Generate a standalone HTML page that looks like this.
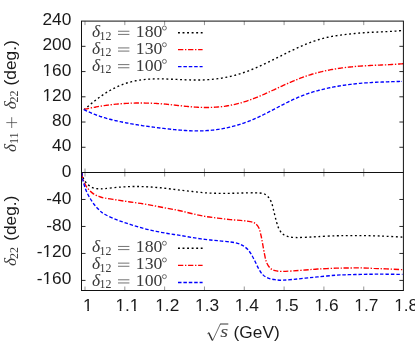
<!DOCTYPE html>
<html><head><meta charset="utf-8"><title>plot</title>
<style>html,body{margin:0;padding:0;background:#fff;}svg{display:block;will-change:transform;opacity:0.999;}</style>
</head><body>
<svg width="415" height="345" viewBox="0 0 415 345">
<rect x="0" y="0" width="415" height="345" fill="#fff"/>
<g fill="none" stroke-width="1.35">
<path d="M83.90,109.86C84.23,109.57 85.23,108.70 85.90,108.13C86.57,107.56 87.23,106.99 87.90,106.43C88.57,105.87 89.23,105.31 89.90,104.76C90.57,104.21 91.23,103.66 91.90,103.12C92.57,102.58 93.23,102.05 93.90,101.52C94.57,101.00 95.23,100.48 95.90,99.96C96.57,99.45 97.23,98.95 97.90,98.45C98.57,97.95 99.23,97.47 99.90,96.99C100.57,96.51 101.23,96.04 101.90,95.58C102.57,95.11 103.23,94.66 103.90,94.22C104.57,93.78 105.23,93.35 105.90,92.93C106.57,92.50 107.23,92.09 107.90,91.69C108.57,91.29 109.23,90.90 109.90,90.52C110.57,90.14 111.23,89.77 111.90,89.41C112.57,89.05 113.23,88.70 113.90,88.36C114.57,88.02 115.23,87.69 115.90,87.37C116.57,87.05 117.23,86.74 117.90,86.44C118.57,86.14 119.23,85.85 119.90,85.57C120.57,85.29 121.23,85.02 121.90,84.77C122.57,84.51 123.23,84.26 123.90,84.02C124.57,83.78 125.23,83.56 125.90,83.34C126.57,83.12 127.23,82.92 127.90,82.72C128.57,82.52 129.23,82.33 129.90,82.15C130.57,81.97 131.23,81.80 131.90,81.64C132.57,81.48 133.23,81.33 133.90,81.19C134.57,81.04 135.23,80.91 135.90,80.78C136.57,80.65 137.23,80.53 137.90,80.42C138.57,80.30 139.23,80.20 139.90,80.10C140.57,80.00 141.23,79.91 141.90,79.83C142.57,79.74 143.23,79.67 143.90,79.60C144.57,79.52 145.23,79.46 145.90,79.40C146.57,79.34 147.23,79.29 147.90,79.24C148.57,79.19 149.23,79.15 149.90,79.11C150.57,79.08 151.23,79.05 151.90,79.02C152.57,78.99 153.23,78.97 153.90,78.95C154.57,78.93 155.23,78.92 155.90,78.91C156.57,78.90 157.23,78.89 157.90,78.89C158.57,78.89 159.23,78.89 159.90,78.89C160.57,78.90 161.23,78.90 161.90,78.91C162.57,78.92 163.23,78.94 163.90,78.95C164.57,78.96 165.23,78.98 165.90,79.00C166.57,79.02 167.23,79.04 167.90,79.06C168.57,79.09 169.23,79.11 169.90,79.14C170.57,79.16 171.23,79.19 171.90,79.22C172.57,79.24 173.23,79.27 173.90,79.30C174.57,79.33 175.23,79.36 175.90,79.39C176.57,79.42 177.23,79.45 177.90,79.48C178.57,79.51 179.23,79.54 179.90,79.57C180.57,79.60 181.23,79.63 181.90,79.66C182.57,79.69 183.23,79.72 183.90,79.74C184.57,79.77 185.23,79.80 185.90,79.82C186.57,79.85 187.23,79.87 187.90,79.89C188.57,79.91 189.23,79.93 189.90,79.95C190.57,79.97 191.23,79.99 191.90,80.00C192.57,80.01 193.23,80.03 193.90,80.03C194.57,80.04 195.23,80.05 195.90,80.05C196.57,80.05 197.23,80.05 197.90,80.05C198.57,80.05 199.23,80.04 199.90,80.03C200.57,80.02 201.23,80.00 201.90,79.98C202.57,79.97 203.23,79.94 203.90,79.92C204.57,79.89 205.23,79.86 205.90,79.82C206.57,79.79 207.23,79.75 207.90,79.70C208.57,79.66 209.23,79.61 209.90,79.56C210.57,79.50 211.23,79.45 211.90,79.38C212.57,79.32 213.23,79.25 213.90,79.18C214.57,79.11 215.23,79.03 215.90,78.95C216.57,78.87 217.23,78.78 217.90,78.69C218.57,78.60 219.23,78.50 219.90,78.40C220.57,78.30 221.23,78.20 221.90,78.08C222.57,77.97 223.23,77.86 223.90,77.74C224.57,77.62 225.23,77.49 225.90,77.36C226.57,77.23 227.23,77.09 227.90,76.95C228.57,76.81 229.23,76.66 229.90,76.51C230.57,76.36 231.23,76.20 231.90,76.04C232.57,75.87 233.23,75.71 233.90,75.53C234.57,75.36 235.23,75.18 235.90,75.00C236.57,74.81 237.23,74.62 237.90,74.43C238.57,74.23 239.23,74.03 239.90,73.82C240.57,73.62 241.23,73.40 241.90,73.18C242.57,72.97 243.23,72.74 243.90,72.51C244.57,72.28 245.23,72.05 245.90,71.81C246.57,71.57 247.23,71.32 247.90,71.07C248.57,70.82 249.23,70.56 249.90,70.30C250.57,70.04 251.23,69.77 251.90,69.50C252.57,69.23 253.23,68.96 253.90,68.68C254.57,68.40 255.23,68.11 255.90,67.83C256.57,67.54 257.23,67.25 257.90,66.96C258.57,66.66 259.23,66.36 259.90,66.06C260.57,65.76 261.23,65.46 261.90,65.15C262.57,64.84 263.23,64.53 263.90,64.22C264.57,63.91 265.23,63.59 265.90,63.27C266.57,62.96 267.23,62.64 267.90,62.32C268.57,62.00 269.23,61.67 269.90,61.35C270.57,61.02 271.23,60.70 271.90,60.37C272.57,60.04 273.23,59.71 273.90,59.38C274.57,59.06 275.23,58.72 275.90,58.39C276.57,58.06 277.23,57.73 277.90,57.40C278.57,57.07 279.23,56.74 279.90,56.41C280.57,56.07 281.23,55.74 281.90,55.41C282.57,55.08 283.23,54.75 283.90,54.42C284.57,54.09 285.23,53.76 285.90,53.43C286.57,53.10 287.23,52.78 287.90,52.45C288.57,52.13 289.23,51.80 289.90,51.48C290.57,51.16 291.23,50.84 291.90,50.52C292.57,50.20 293.23,49.88 293.90,49.57C294.57,49.25 295.23,48.94 295.90,48.63C296.57,48.32 297.23,48.02 297.90,47.71C298.57,47.41 299.23,47.11 299.90,46.81C300.57,46.52 301.23,46.22 301.90,45.93C302.57,45.64 303.23,45.36 303.90,45.08C304.57,44.79 305.23,44.52 305.90,44.24C306.57,43.97 307.23,43.70 307.90,43.43C308.57,43.17 309.23,42.91 309.90,42.66C310.57,42.40 311.23,42.15 311.90,41.91C312.57,41.66 313.23,41.42 313.90,41.19C314.57,40.96 315.23,40.73 315.90,40.51C316.57,40.28 317.23,40.07 317.90,39.86C318.57,39.65 319.23,39.45 319.90,39.25C320.57,39.05 321.23,38.86 321.90,38.68C322.57,38.50 323.23,38.32 323.90,38.15C324.57,37.98 325.23,37.82 325.90,37.67C326.57,37.51 327.23,37.37 327.90,37.22C328.57,37.08 329.23,36.95 329.90,36.82C330.57,36.69 331.23,36.56 331.90,36.44C332.57,36.32 333.23,36.21 333.90,36.10C334.57,35.99 335.23,35.88 335.90,35.78C336.57,35.68 337.23,35.58 337.90,35.48C338.57,35.39 339.23,35.30 339.90,35.21C340.57,35.12 341.23,35.03 341.90,34.94C342.57,34.86 343.23,34.78 343.90,34.69C344.57,34.61 345.23,34.53 345.90,34.45C346.57,34.37 347.23,34.30 347.90,34.22C348.57,34.14 349.23,34.07 349.90,34.00C350.57,33.93 351.23,33.85 351.90,33.78C352.57,33.72 353.23,33.65 353.90,33.58C354.57,33.52 355.23,33.45 355.90,33.39C356.57,33.33 357.23,33.27 357.90,33.21C358.57,33.15 359.23,33.10 359.90,33.04C360.57,32.99 361.23,32.94 361.90,32.89C362.57,32.84 363.23,32.79 363.90,32.74C364.57,32.70 365.23,32.65 365.90,32.61C366.57,32.57 367.23,32.53 367.90,32.50C368.57,32.46 369.23,32.42 369.90,32.39C370.57,32.35 371.23,32.32 371.90,32.29C372.57,32.25 373.23,32.22 373.90,32.19C374.57,32.16 375.23,32.13 375.90,32.10C376.57,32.07 377.23,32.05 377.90,32.02C378.57,31.99 379.23,31.96 379.90,31.93C380.57,31.90 381.23,31.87 381.90,31.84C382.57,31.81 383.23,31.78 383.90,31.75C384.57,31.72 385.23,31.69 385.90,31.66C386.57,31.63 387.23,31.59 387.90,31.56C388.57,31.52 389.23,31.49 389.90,31.45C390.57,31.41 391.23,31.37 391.90,31.33C392.57,31.29 393.23,31.24 393.90,31.20C394.57,31.15 395.23,31.10 395.90,31.05C396.57,31.00 397.23,30.95 397.90,30.89C398.57,30.83 399.23,30.77 399.90,30.71C400.57,30.65 401.55,30.55 401.90,30.51C402.25,30.48 401.98,30.50 402.00,30.50" stroke="#000" stroke-dasharray="1.9 2.65"/>
<path d="M83.90,109.46C84.23,109.39 85.23,109.16 85.90,109.01C86.57,108.86 87.23,108.71 87.90,108.56C88.57,108.42 89.23,108.28 89.90,108.14C90.57,108.00 91.23,107.87 91.90,107.73C92.57,107.60 93.23,107.47 93.90,107.35C94.57,107.22 95.23,107.09 95.90,106.97C96.57,106.85 97.23,106.73 97.90,106.62C98.57,106.50 99.23,106.39 99.90,106.28C100.57,106.17 101.23,106.06 101.90,105.96C102.57,105.86 103.23,105.76 103.90,105.66C104.57,105.56 105.23,105.46 105.90,105.37C106.57,105.28 107.23,105.19 107.90,105.10C108.57,105.01 109.23,104.93 109.90,104.85C110.57,104.77 111.23,104.69 111.90,104.61C112.57,104.53 113.23,104.46 113.90,104.39C114.57,104.32 115.23,104.25 115.90,104.19C116.57,104.12 117.23,104.06 117.90,104.00C118.57,103.94 119.23,103.88 119.90,103.83C120.57,103.77 121.23,103.72 121.90,103.67C122.57,103.62 123.23,103.58 123.90,103.53C124.57,103.49 125.23,103.45 125.90,103.41C126.57,103.37 127.23,103.34 127.90,103.31C128.57,103.27 129.23,103.24 129.90,103.21C130.57,103.19 131.23,103.16 131.90,103.14C132.57,103.12 133.23,103.10 133.90,103.08C134.57,103.06 135.23,103.05 135.90,103.04C136.57,103.02 137.23,103.01 137.90,103.01C138.57,103.00 139.23,103.00 139.90,102.99C140.57,102.99 141.23,102.99 141.90,103.00C142.57,103.00 143.23,103.01 143.90,103.01C144.57,103.02 145.23,103.03 145.90,103.05C146.57,103.06 147.23,103.08 147.90,103.10C148.57,103.11 149.23,103.14 149.90,103.16C150.57,103.18 151.23,103.21 151.90,103.24C152.57,103.27 153.23,103.30 153.90,103.33C154.57,103.36 155.23,103.40 155.90,103.44C156.57,103.48 157.23,103.52 157.90,103.56C158.57,103.60 159.23,103.65 159.90,103.70C160.57,103.75 161.23,103.80 161.90,103.85C162.57,103.90 163.23,103.96 163.90,104.02C164.57,104.07 165.23,104.13 165.90,104.20C166.57,104.26 167.23,104.32 167.90,104.39C168.57,104.45 169.23,104.52 169.90,104.59C170.57,104.66 171.23,104.73 171.90,104.80C172.57,104.87 173.23,104.95 173.90,105.02C174.57,105.09 175.23,105.16 175.90,105.24C176.57,105.31 177.23,105.39 177.90,105.46C178.57,105.53 179.23,105.61 179.90,105.68C180.57,105.75 181.23,105.83 181.90,105.90C182.57,105.97 183.23,106.04 183.90,106.11C184.57,106.18 185.23,106.25 185.90,106.32C186.57,106.38 187.23,106.45 187.90,106.51C188.57,106.58 189.23,106.64 189.90,106.70C190.57,106.76 191.23,106.82 191.90,106.87C192.57,106.93 193.23,106.98 193.90,107.03C194.57,107.08 195.23,107.12 195.90,107.17C196.57,107.21 197.23,107.25 197.90,107.28C198.57,107.32 199.23,107.35 199.90,107.38C200.57,107.41 201.23,107.43 201.90,107.45C202.57,107.47 203.23,107.49 203.90,107.50C204.57,107.51 205.23,107.51 205.90,107.52C206.57,107.52 207.23,107.51 207.90,107.50C208.57,107.50 209.23,107.48 209.90,107.46C210.57,107.44 211.23,107.42 211.90,107.39C212.57,107.36 213.23,107.33 213.90,107.29C214.57,107.25 215.23,107.21 215.90,107.16C216.57,107.11 217.23,107.06 217.90,107.00C218.57,106.94 219.23,106.88 219.90,106.81C220.57,106.74 221.23,106.66 221.90,106.58C222.57,106.50 223.23,106.42 223.90,106.33C224.57,106.24 225.23,106.14 225.90,106.04C226.57,105.94 227.23,105.83 227.90,105.72C228.57,105.60 229.23,105.49 229.90,105.36C230.57,105.24 231.23,105.11 231.90,104.98C232.57,104.84 233.23,104.70 233.90,104.55C234.57,104.41 235.23,104.26 235.90,104.10C236.57,103.94 237.23,103.78 237.90,103.61C238.57,103.44 239.23,103.27 239.90,103.08C240.57,102.90 241.23,102.72 241.90,102.52C242.57,102.33 243.23,102.13 243.90,101.93C244.57,101.72 245.23,101.51 245.90,101.30C246.57,101.08 247.23,100.86 247.90,100.63C248.57,100.41 249.23,100.17 249.90,99.94C250.57,99.70 251.23,99.46 251.90,99.21C252.57,98.96 253.23,98.71 253.90,98.45C254.57,98.20 255.23,97.94 255.90,97.67C256.57,97.41 257.23,97.14 257.90,96.86C258.57,96.59 259.23,96.32 259.90,96.04C260.57,95.76 261.23,95.47 261.90,95.19C262.57,94.90 263.23,94.61 263.90,94.32C264.57,94.03 265.23,93.73 265.90,93.43C266.57,93.14 267.23,92.84 267.90,92.54C268.57,92.23 269.23,91.93 269.90,91.63C270.57,91.32 271.23,91.01 271.90,90.71C272.57,90.40 273.23,90.09 273.90,89.78C274.57,89.47 275.23,89.16 275.90,88.85C276.57,88.54 277.23,88.23 277.90,87.92C278.57,87.62 279.23,87.31 279.90,87.00C280.57,86.69 281.23,86.38 281.90,86.08C282.57,85.77 283.23,85.46 283.90,85.16C284.57,84.86 285.23,84.55 285.90,84.26C286.57,83.96 287.23,83.66 287.90,83.36C288.57,83.07 289.23,82.77 289.90,82.48C290.57,82.19 291.23,81.90 291.90,81.62C292.57,81.33 293.23,81.05 293.90,80.77C294.57,80.49 295.23,80.22 295.90,79.95C296.57,79.68 297.23,79.41 297.90,79.14C298.57,78.88 299.23,78.62 299.90,78.36C300.57,78.11 301.23,77.86 301.90,77.61C302.57,77.36 303.23,77.12 303.90,76.88C304.57,76.65 305.23,76.41 305.90,76.19C306.57,75.96 307.23,75.74 307.90,75.52C308.57,75.30 309.23,75.09 309.90,74.88C310.57,74.67 311.23,74.46 311.90,74.27C312.57,74.07 313.23,73.87 313.90,73.68C314.57,73.49 315.23,73.30 315.90,73.12C316.57,72.94 317.23,72.76 317.90,72.59C318.57,72.42 319.23,72.25 319.90,72.08C320.57,71.92 321.23,71.75 321.90,71.60C322.57,71.44 323.23,71.29 323.90,71.14C324.57,70.99 325.23,70.84 325.90,70.70C326.57,70.56 327.23,70.42 327.90,70.29C328.57,70.15 329.23,70.02 329.90,69.89C330.57,69.77 331.23,69.64 331.90,69.52C332.57,69.40 333.23,69.28 333.90,69.17C334.57,69.06 335.23,68.95 335.90,68.84C336.57,68.73 337.23,68.63 337.90,68.52C338.57,68.42 339.23,68.33 339.90,68.23C340.57,68.13 341.23,68.04 341.90,67.95C342.57,67.86 343.23,67.78 343.90,67.69C344.57,67.61 345.23,67.53 345.90,67.45C346.57,67.37 347.23,67.29 347.90,67.22C348.57,67.15 349.23,67.07 349.90,67.01C350.57,66.94 351.23,66.87 351.90,66.81C352.57,66.74 353.23,66.68 353.90,66.62C354.57,66.56 355.23,66.50 355.90,66.45C356.57,66.39 357.23,66.34 357.90,66.29C358.57,66.23 359.23,66.18 359.90,66.14C360.57,66.09 361.23,66.04 361.90,66.00C362.57,65.95 363.23,65.91 363.90,65.87C364.57,65.83 365.23,65.79 365.90,65.75C366.57,65.71 367.23,65.67 367.90,65.64C368.57,65.60 369.23,65.57 369.90,65.53C370.57,65.50 371.23,65.47 371.90,65.43C372.57,65.40 373.23,65.37 373.90,65.34C374.57,65.31 375.23,65.28 375.90,65.25C376.57,65.22 377.23,65.19 377.90,65.16C378.57,65.13 379.23,65.10 379.90,65.07C380.57,65.04 381.23,65.01 381.90,64.98C382.57,64.95 383.23,64.93 383.90,64.89C384.57,64.86 385.23,64.83 385.90,64.80C386.57,64.77 387.23,64.74 387.90,64.71C388.57,64.67 389.23,64.64 389.90,64.60C390.57,64.57 391.23,64.53 391.90,64.49C392.57,64.46 393.23,64.42 393.90,64.38C394.57,64.34 395.23,64.30 395.90,64.25C396.57,64.21 397.23,64.17 397.90,64.12C398.57,64.07 399.23,64.02 399.90,63.97C400.57,63.92 401.32,63.86 401.90,63.81C402.48,63.76 403.15,63.71 403.40,63.68" stroke="#f00" stroke-dasharray="5.3 1.7 1.35 1.7"/>
<path d="M83.90,109.57C84.23,109.73 85.23,110.24 85.90,110.56C86.57,110.89 87.23,111.20 87.90,111.51C88.57,111.81 89.23,112.11 89.90,112.41C90.57,112.70 91.23,112.98 91.90,113.26C92.57,113.54 93.23,113.81 93.90,114.07C94.57,114.34 95.23,114.59 95.90,114.84C96.57,115.09 97.23,115.34 97.90,115.57C98.57,115.81 99.23,116.04 99.90,116.27C100.57,116.50 101.23,116.71 101.90,116.93C102.57,117.14 103.23,117.35 103.90,117.56C104.57,117.76 105.23,117.96 105.90,118.15C106.57,118.35 107.23,118.53 107.90,118.72C108.57,118.90 109.23,119.08 109.90,119.26C110.57,119.43 111.23,119.60 111.90,119.77C112.57,119.94 113.23,120.10 113.90,120.26C114.57,120.42 115.23,120.58 115.90,120.73C116.57,120.88 117.23,121.03 117.90,121.18C118.57,121.32 119.23,121.47 119.90,121.61C120.57,121.75 121.23,121.89 121.90,122.02C122.57,122.16 123.23,122.29 123.90,122.42C124.57,122.55 125.23,122.68 125.90,122.81C126.57,122.94 127.23,123.06 127.90,123.19C128.57,123.31 129.23,123.43 129.90,123.55C130.57,123.67 131.23,123.79 131.90,123.90C132.57,124.02 133.23,124.14 133.90,124.25C134.57,124.36 135.23,124.47 135.90,124.58C136.57,124.69 137.23,124.80 137.90,124.91C138.57,125.01 139.23,125.12 139.90,125.22C140.57,125.32 141.23,125.43 141.90,125.53C142.57,125.63 143.23,125.73 143.90,125.82C144.57,125.92 145.23,126.02 145.90,126.11C146.57,126.21 147.23,126.30 147.90,126.40C148.57,126.49 149.23,126.58 149.90,126.67C150.57,126.76 151.23,126.85 151.90,126.94C152.57,127.03 153.23,127.12 153.90,127.20C154.57,127.29 155.23,127.37 155.90,127.46C156.57,127.54 157.23,127.63 157.90,127.71C158.57,127.79 159.23,127.88 159.90,127.96C160.57,128.04 161.23,128.12 161.90,128.20C162.57,128.28 163.23,128.36 163.90,128.44C164.57,128.52 165.23,128.60 165.90,128.67C166.57,128.75 167.23,128.83 167.90,128.90C168.57,128.98 169.23,129.05 169.90,129.13C170.57,129.20 171.23,129.27 171.90,129.34C172.57,129.41 173.23,129.48 173.90,129.55C174.57,129.62 175.23,129.68 175.90,129.75C176.57,129.81 177.23,129.87 177.90,129.93C178.57,129.99 179.23,130.05 179.90,130.11C180.57,130.16 181.23,130.22 181.90,130.27C182.57,130.32 183.23,130.37 183.90,130.42C184.57,130.46 185.23,130.50 185.90,130.54C186.57,130.58 187.23,130.62 187.90,130.66C188.57,130.69 189.23,130.72 189.90,130.75C190.57,130.78 191.23,130.80 191.90,130.82C192.57,130.84 193.23,130.86 193.90,130.88C194.57,130.89 195.23,130.90 195.90,130.91C196.57,130.91 197.23,130.91 197.90,130.91C198.57,130.91 199.23,130.90 199.90,130.89C200.57,130.88 201.23,130.87 201.90,130.85C202.57,130.83 203.23,130.80 203.90,130.77C204.57,130.75 205.23,130.71 205.90,130.67C206.57,130.63 207.23,130.59 207.90,130.54C208.57,130.49 209.23,130.44 209.90,130.38C210.57,130.33 211.23,130.26 211.90,130.19C212.57,130.13 213.23,130.05 213.90,129.98C214.57,129.90 215.23,129.82 215.90,129.73C216.57,129.64 217.23,129.55 217.90,129.45C218.57,129.35 219.23,129.25 219.90,129.14C220.57,129.03 221.23,128.92 221.90,128.80C222.57,128.68 223.23,128.56 223.90,128.43C224.57,128.31 225.23,128.17 225.90,128.03C226.57,127.90 227.23,127.75 227.90,127.60C228.57,127.45 229.23,127.30 229.90,127.14C230.57,126.98 231.23,126.82 231.90,126.65C232.57,126.48 233.23,126.30 233.90,126.12C234.57,125.94 235.23,125.76 235.90,125.57C236.57,125.37 237.23,125.18 237.90,124.98C238.57,124.77 239.23,124.57 239.90,124.36C240.57,124.14 241.23,123.93 241.90,123.70C242.57,123.48 243.23,123.25 243.90,123.02C244.57,122.78 245.23,122.54 245.90,122.30C246.57,122.05 247.23,121.80 247.90,121.55C248.57,121.29 249.23,121.03 249.90,120.77C250.57,120.50 251.23,120.23 251.90,119.96C252.57,119.68 253.23,119.40 253.90,119.11C254.57,118.83 255.23,118.54 255.90,118.25C256.57,117.95 257.23,117.65 257.90,117.35C258.57,117.05 259.23,116.74 259.90,116.43C260.57,116.11 261.23,115.80 261.90,115.48C262.57,115.16 263.23,114.83 263.90,114.50C264.57,114.18 265.23,113.84 265.90,113.51C266.57,113.17 267.23,112.83 267.90,112.49C268.57,112.15 269.23,111.80 269.90,111.46C270.57,111.11 271.23,110.76 271.90,110.41C272.57,110.06 273.23,109.71 273.90,109.36C274.57,109.01 275.23,108.66 275.90,108.30C276.57,107.95 277.23,107.60 277.90,107.25C278.57,106.90 279.23,106.54 279.90,106.19C280.57,105.84 281.23,105.50 281.90,105.15C282.57,104.80 283.23,104.46 283.90,104.12C284.57,103.77 285.23,103.43 285.90,103.10C286.57,102.76 287.23,102.43 287.90,102.10C288.57,101.77 289.23,101.44 289.90,101.12C290.57,100.80 291.23,100.48 291.90,100.16C292.57,99.85 293.23,99.54 293.90,99.23C294.57,98.92 295.23,98.62 295.90,98.33C296.57,98.03 297.23,97.74 297.90,97.45C298.57,97.16 299.23,96.88 299.90,96.61C300.57,96.33 301.23,96.06 301.90,95.80C302.57,95.53 303.23,95.27 303.90,95.02C304.57,94.77 305.23,94.53 305.90,94.29C306.57,94.05 307.23,93.81 307.90,93.59C308.57,93.36 309.23,93.14 309.90,92.92C310.57,92.71 311.23,92.50 311.90,92.29C312.57,92.08 313.23,91.88 313.90,91.69C314.57,91.49 315.23,91.30 315.90,91.11C316.57,90.93 317.23,90.74 317.90,90.57C318.57,90.39 319.23,90.21 319.90,90.04C320.57,89.87 321.23,89.71 321.90,89.54C322.57,89.38 323.23,89.22 323.90,89.06C324.57,88.91 325.23,88.75 325.90,88.60C326.57,88.45 327.23,88.31 327.90,88.16C328.57,88.02 329.23,87.88 329.90,87.74C330.57,87.60 331.23,87.47 331.90,87.33C332.57,87.20 333.23,87.07 333.90,86.94C334.57,86.82 335.23,86.69 335.90,86.57C336.57,86.45 337.23,86.33 337.90,86.22C338.57,86.10 339.23,85.99 339.90,85.88C340.57,85.77 341.23,85.66 341.90,85.56C342.57,85.46 343.23,85.35 343.90,85.25C344.57,85.15 345.23,85.06 345.90,84.96C346.57,84.87 347.23,84.78 347.90,84.69C348.57,84.60 349.23,84.52 349.90,84.43C350.57,84.35 351.23,84.27 351.90,84.19C352.57,84.11 353.23,84.03 353.90,83.96C354.57,83.88 355.23,83.81 355.90,83.74C356.57,83.67 357.23,83.61 357.90,83.54C358.57,83.48 359.23,83.41 359.90,83.35C360.57,83.29 361.23,83.23 361.90,83.18C362.57,83.12 363.23,83.07 363.90,83.02C364.57,82.97 365.23,82.92 365.90,82.87C366.57,82.82 367.23,82.78 367.90,82.73C368.57,82.69 369.23,82.65 369.90,82.61C370.57,82.57 371.23,82.53 371.90,82.49C372.57,82.45 373.23,82.42 373.90,82.38C374.57,82.35 375.23,82.32 375.90,82.29C376.57,82.25 377.23,82.22 377.90,82.19C378.57,82.17 379.23,82.14 379.90,82.11C380.57,82.08 381.23,82.06 381.90,82.03C382.57,82.01 383.23,81.98 383.90,81.96C384.57,81.93 385.23,81.91 385.90,81.89C386.57,81.86 387.23,81.84 387.90,81.82C388.57,81.80 389.23,81.78 389.90,81.76C390.57,81.73 391.23,81.71 391.90,81.69C392.57,81.67 393.23,81.65 393.90,81.63C394.57,81.61 395.23,81.59 395.90,81.56C396.57,81.54 397.23,81.52 397.90,81.50C398.57,81.48 399.23,81.45 399.90,81.43C400.57,81.41 401.55,81.37 401.90,81.36C402.25,81.35 401.98,81.35 402.00,81.35" stroke="#00f" stroke-dasharray="3.5 1.9"/>
<path d="M82.00,173.00C82.08,173.55 81.78,174.63 82.50,176.30C83.22,177.97 84.63,181.12 86.30,183.00C87.97,184.88 90.42,186.63 92.50,187.60C94.58,188.57 96.72,188.63 98.80,188.80C100.88,188.97 101.87,188.85 105.00,188.60C108.13,188.35 113.42,187.63 117.60,187.30C121.78,186.97 125.92,186.72 130.10,186.60C134.28,186.48 138.52,186.48 142.70,186.60C146.88,186.72 151.03,186.97 155.20,187.30C159.37,187.63 163.57,188.13 167.70,188.60C171.83,189.07 175.87,189.62 180.00,190.10C184.13,190.58 188.33,191.05 192.50,191.50C196.67,191.95 200.82,192.50 205.00,192.80C209.18,193.10 213.42,193.22 217.60,193.30C221.78,193.38 225.92,193.35 230.10,193.30C234.28,193.25 238.52,193.08 242.70,193.00C246.88,192.92 251.87,192.72 255.20,192.80C258.53,192.88 260.62,192.92 262.70,193.50C264.78,194.08 266.23,194.78 267.70,196.30C269.17,197.82 270.45,199.98 271.50,202.60C272.55,205.22 273.18,208.85 274.00,212.00C274.82,215.15 275.58,218.70 276.40,221.50C277.22,224.30 277.87,226.73 278.90,228.80C279.93,230.87 281.15,232.65 282.60,233.90C284.05,235.15 285.50,235.70 287.60,236.30C289.70,236.90 292.27,237.33 295.20,237.50C298.13,237.67 301.45,237.45 305.20,237.30C308.95,237.15 312.57,236.85 317.70,236.60C322.83,236.35 330.85,235.97 336.00,235.80C341.15,235.63 344.42,235.63 348.60,235.60C352.78,235.57 356.92,235.57 361.10,235.60C365.28,235.63 369.52,235.68 373.70,235.80C377.88,235.92 381.40,236.08 386.20,236.30C391.00,236.52 399.78,236.97 402.50,237.10" stroke="#000" stroke-dasharray="1.9 2.65"/>
<path d="M82.00,173.00C82.08,173.75 81.78,175.28 82.50,177.50C83.22,179.72 84.63,183.70 86.30,186.30C87.97,188.90 90.42,191.43 92.50,193.10C94.58,194.77 96.72,195.46 98.80,196.30C100.88,197.14 101.87,197.52 105.00,198.15C108.13,198.78 113.42,199.43 117.60,200.07C121.78,200.71 125.92,201.39 130.10,202.00C134.28,202.61 138.52,203.07 142.70,203.74C146.88,204.41 151.03,205.26 155.20,206.03C159.37,206.80 163.57,207.57 167.70,208.36C171.83,209.14 175.87,209.85 180.00,210.75C184.13,211.65 188.33,212.80 192.50,213.74C196.67,214.69 200.82,215.67 205.00,216.40C209.18,217.13 213.42,217.57 217.60,218.10C221.78,218.63 225.92,219.18 230.10,219.60C234.28,220.02 239.35,220.27 242.70,220.60C246.05,220.93 248.12,221.12 250.20,221.60C252.28,222.08 253.77,222.47 255.20,223.50C256.63,224.53 257.85,225.88 258.80,227.80C259.75,229.72 260.30,232.53 260.90,235.00C261.50,237.47 261.83,239.60 262.40,242.60C262.97,245.60 263.63,249.77 264.30,253.00C264.97,256.23 265.43,259.50 266.40,262.00C267.37,264.50 268.65,266.55 270.10,268.00C271.55,269.45 273.02,270.13 275.10,270.70C277.18,271.27 279.67,271.37 282.60,271.40C285.53,271.43 288.93,271.13 292.70,270.90C296.47,270.67 301.03,270.32 305.20,270.00C309.37,269.68 312.57,269.30 317.70,269.00C322.83,268.70 330.85,268.37 336.00,268.20C341.15,268.03 344.42,268.05 348.60,268.00C352.78,267.95 356.92,267.83 361.10,267.90C365.28,267.97 369.52,268.23 373.70,268.40C377.88,268.57 381.40,268.68 386.20,268.90C391.00,269.12 399.78,269.57 402.50,269.70" stroke="#f00" stroke-dasharray="5.3 1.7 1.35 1.7"/>
<path d="M82.00,173.00C82.08,173.94 81.78,175.61 82.50,178.61C83.22,181.61 84.63,187.07 86.30,190.99C87.97,194.90 90.42,199.00 92.50,202.10C94.58,205.20 96.72,207.53 98.80,209.60C100.88,211.67 101.87,212.76 105.00,214.50C108.13,216.24 113.42,218.40 117.60,220.05C121.78,221.70 125.92,223.05 130.10,224.41C134.28,225.76 138.52,227.07 142.70,228.19C146.88,229.32 151.03,230.25 155.20,231.13C159.37,232.01 163.57,232.78 167.70,233.49C171.83,234.20 175.87,234.72 180.00,235.40C184.13,236.08 188.33,236.88 192.50,237.55C196.67,238.22 200.82,238.88 205.00,239.40C209.18,239.93 213.42,240.28 217.60,240.70C221.78,241.12 226.77,241.47 230.10,241.90C233.43,242.33 235.52,242.72 237.60,243.30C239.68,243.88 240.93,244.40 242.60,245.40C244.27,246.40 246.13,247.78 247.60,249.30C249.07,250.82 250.15,252.47 251.40,254.50C252.65,256.53 253.87,259.08 255.10,261.50C256.33,263.92 257.55,266.83 258.80,269.00C260.05,271.17 261.13,273.02 262.60,274.50C264.07,275.98 265.52,277.03 267.60,277.90C269.68,278.77 272.60,279.32 275.10,279.70C277.60,280.08 279.67,280.25 282.60,280.20C285.53,280.15 288.93,279.73 292.70,279.40C296.47,279.07 301.03,278.62 305.20,278.20C309.37,277.78 312.57,277.40 317.70,276.90C322.83,276.40 330.85,275.57 336.00,275.20C341.15,274.83 344.42,274.83 348.60,274.70C352.78,274.57 356.92,274.48 361.10,274.40C365.28,274.32 369.52,274.23 373.70,274.20C377.88,274.17 381.40,274.17 386.20,274.20C391.00,274.23 399.78,274.37 402.50,274.40" stroke="#00f" stroke-dasharray="3.5 1.9"/>
<path d="M178.0,32.70H202.6" stroke="#000" stroke-dasharray="1.9 2.65"/>
<path d="M178.0,49.65H202.6" stroke="#f00" stroke-dasharray="5.3 1.7 1.35 1.7"/>
<path d="M178.0,66.60H202.6" stroke="#00f" stroke-dasharray="3.5 1.9"/>
<path d="M178.0,248.25H202.6" stroke="#000" stroke-dasharray="1.9 2.65"/>
<path d="M178.0,265.35H202.6" stroke="#f00" stroke-dasharray="5.3 1.7 1.35 1.7"/>
<path d="M178.0,282.45H202.6" stroke="#00f" stroke-dasharray="3.5 1.9"/>
</g>
<g fill="none" stroke="#111" stroke-width="1">
<rect x="81.50" y="21.10" width="321.90" height="269.40"/>
<path d="M81.50,172.50H403.40"/>
<path d="M81.50,147.27h4.00M403.40,147.27h-4.00M81.50,122.03h4.00M403.40,122.03h-4.00M81.50,96.80h4.00M403.40,96.80h-4.00M81.50,71.57h4.00M403.40,71.57h-4.00M81.50,46.33h4.00M403.40,46.33h-4.00M81.50,199.48h4.00M403.40,199.48h-4.00M81.50,226.46h4.00M403.40,226.46h-4.00M81.50,253.44h4.00M403.40,253.44h-4.00M81.50,280.42h4.00M403.40,280.42h-4.00" stroke-width="0.9"/>
<path d="M85.00,21.10v4.00M85.00,172.50v-4.00M85.00,172.50v4.00M85.00,290.50v-4.00M124.82,21.10v4.00M124.82,172.50v-4.00M124.82,172.50v4.00M124.82,290.50v-4.00M164.64,21.10v4.00M164.64,172.50v-4.00M164.64,172.50v4.00M164.64,290.50v-4.00M204.46,21.10v4.00M204.46,172.50v-4.00M204.46,172.50v4.00M204.46,290.50v-4.00M244.28,21.10v4.00M244.28,172.50v-4.00M244.28,172.50v4.00M244.28,290.50v-4.00M284.10,21.10v4.00M284.10,172.50v-4.00M284.10,172.50v4.00M284.10,290.50v-4.00M323.92,21.10v4.00M323.92,172.50v-4.00M323.92,172.50v4.00M323.92,290.50v-4.00M363.74,21.10v4.00M363.74,172.50v-4.00M363.74,172.50v4.00M363.74,290.50v-4.00" stroke-width="0.45"/>
</g>
<g font-family="'Liberation Sans', sans-serif" font-size="17.3" fill="#1a1a1a">
<text x="71.3" y="176.55" text-anchor="end">0</text>
<text x="71.3" y="151.32" text-anchor="end">40</text>
<text x="71.3" y="126.08" text-anchor="end">80</text>
<text x="71.3" y="100.85" text-anchor="end">120</text>
<text x="71.3" y="75.62" text-anchor="end">160</text>
<text x="71.3" y="50.38" text-anchor="end">200</text>
<text x="71.3" y="25.15" text-anchor="end">240</text>
<text x="71.3" y="203.53" text-anchor="end">-40</text>
<text x="71.3" y="230.51" text-anchor="end">-80</text>
<text x="71.3" y="257.49" text-anchor="end">-120</text>
<text x="71.3" y="284.47" text-anchor="end">-160</text>
<text x="87.80" y="311.1" text-anchor="middle">1</text>
<text x="127.42" y="311.1" text-anchor="middle">1.1</text>
<text x="167.24" y="311.1" text-anchor="middle">1.2</text>
<text x="207.06" y="311.1" text-anchor="middle">1.3</text>
<text x="246.88" y="311.1" text-anchor="middle">1.4</text>
<text x="286.70" y="311.1" text-anchor="middle">1.5</text>
<text x="326.52" y="311.1" text-anchor="middle">1.6</text>
<text x="366.34" y="311.1" text-anchor="middle">1.7</text>
<text x="406.16" y="311.1" text-anchor="middle">1.8</text>
<text x="233.6" y="337.5">(GeV)</text>
</g>
<path d="M43.15,98.40H46.74V101.45H43.15ZM48.36,98.40H51.81V101.45H48.36ZM43.15,73.17H46.74V76.22H43.15ZM48.36,73.17H51.81V76.22H48.36ZM43.15,255.04H46.74V258.09H43.15ZM48.36,255.04H51.81V258.09H48.36ZM43.15,282.02H46.74V285.07H43.15ZM48.36,282.02H51.81V285.07H48.36ZM83.71,308.65H87.29V311.70H83.71ZM88.92,308.65H92.37V311.70H88.92ZM116.11,308.65H119.70V311.70H116.11ZM121.32,308.65H124.77V311.70H121.32ZM130.54,308.65H134.12V311.70H130.54ZM135.75,308.65H139.20V311.70H135.75ZM155.93,308.65H159.52V311.70H155.93ZM161.14,308.65H164.59V311.70H161.14ZM195.75,308.65H199.34V311.70H195.75ZM200.96,308.65H204.41V311.70H200.96ZM235.57,308.65H239.16V311.70H235.57ZM240.78,308.65H244.23V311.70H240.78ZM275.39,308.65H278.98V311.70H275.39ZM280.60,308.65H284.05V311.70H280.60ZM315.21,308.65H318.80V311.70H315.21ZM320.42,308.65H323.87V311.70H320.42ZM355.03,308.65H358.62V311.70H355.03ZM360.24,308.65H363.69V311.70H360.24ZM394.85,308.65H398.44V311.70H394.85ZM400.06,308.65H403.51V311.70H400.06Z" fill="#fff" stroke="none"/>
<g font-family="'Liberation Sans', sans-serif" font-size="17.3" fill="#1a1a1a">
<text transform="translate(16.2,85.4) rotate(-90)">(deg.)</text>
<text transform="translate(16.2,240.8) rotate(-90)">(deg.)</text>
</g>
<path d="M207.3,333.9L208.8,332.6L212.6,340.6L220.35,324.0" fill="none" stroke="#333" stroke-width="0.7" stroke-linejoin="miter"/>
<path d="M220.1,324.0H228.3" fill="none" stroke="#2a2a2a" stroke-width="0.95"/>
<path d="M208.7,332.8L212.3,340.2" fill="none" stroke="#333" stroke-width="1.4"/>
<g font-family="'Liberation Serif', serif" fill="#3a3a3a">
<text transform="translate(220.3,337.4) scale(1.2,0.96)" font-size="17.0" font-style="italic" fill="#484848">s</text>
<text x="91.90" y="37.15" font-size="17.5" font-style="italic">δ</text><text x="99.50" y="39.75" font-size="11.899999999999999">12</text><path d="M118.0,31.25H129.4M118.0,34.40H129.4" stroke="#444" stroke-width="0.75" fill="none"/>
<text x="135.8" y="37.15" font-size="17.7">180</text>
<circle cx="164.4" cy="28.05" r="2.0" fill="none" stroke="#3a3a3a" stroke-width="0.7"/>
<text x="91.90" y="252.35" font-size="17.5" font-style="italic">δ</text><text x="99.50" y="254.95" font-size="11.899999999999999">12</text><path d="M118.0,246.45H129.4M118.0,249.60H129.4" stroke="#444" stroke-width="0.75" fill="none"/>
<text x="135.8" y="252.35" font-size="17.7">180</text>
<circle cx="164.4" cy="243.25" r="2.0" fill="none" stroke="#3a3a3a" stroke-width="0.7"/>
<text x="91.90" y="53.83" font-size="17.5" font-style="italic">δ</text><text x="99.50" y="56.43" font-size="11.899999999999999">12</text><path d="M118.0,47.93H129.4M118.0,51.08H129.4" stroke="#444" stroke-width="0.75" fill="none"/>
<text x="135.8" y="53.83" font-size="17.7">130</text>
<circle cx="164.4" cy="44.73" r="2.0" fill="none" stroke="#3a3a3a" stroke-width="0.7"/>
<text x="91.90" y="269.03" font-size="17.5" font-style="italic">δ</text><text x="99.50" y="271.63" font-size="11.899999999999999">12</text><path d="M118.0,263.13H129.4M118.0,266.28H129.4" stroke="#444" stroke-width="0.75" fill="none"/>
<text x="135.8" y="269.03" font-size="17.7">130</text>
<circle cx="164.4" cy="259.93" r="2.0" fill="none" stroke="#3a3a3a" stroke-width="0.7"/>
<text x="91.90" y="70.51" font-size="17.5" font-style="italic">δ</text><text x="99.50" y="73.11" font-size="11.899999999999999">12</text><path d="M118.0,64.61H129.4M118.0,67.76H129.4" stroke="#444" stroke-width="0.75" fill="none"/>
<text x="135.8" y="70.51" font-size="17.7">100</text>
<circle cx="164.4" cy="61.41" r="2.0" fill="none" stroke="#3a3a3a" stroke-width="0.7"/>
<text x="91.90" y="285.71" font-size="17.5" font-style="italic">δ</text><text x="99.50" y="288.31" font-size="11.899999999999999">12</text><path d="M118.0,279.81H129.4M118.0,282.96H129.4" stroke="#444" stroke-width="0.75" fill="none"/>
<text x="135.8" y="285.71" font-size="17.7">100</text>
<circle cx="164.4" cy="276.61" r="2.0" fill="none" stroke="#3a3a3a" stroke-width="0.7"/>
<g transform="translate(15.80,152.00) rotate(-90)"><text x="0.00" y="0" font-size="17.2" font-style="italic">δ</text><text x="8.00" y="2.6" font-size="11.899999999999999">11</text><path d="M24.00,-4.1h10.8M29.40,-9.5v10.8" stroke="#444" stroke-width="0.75" fill="none"/><text x="42.70" y="0" font-size="17.2" font-style="italic">δ</text><text x="49.50" y="2.6" font-size="11.899999999999999">22</text></g>
<g transform="translate(15.80,266.00) rotate(-90)"><text x="0.00" y="0" font-size="17.2" font-style="italic">δ</text><text x="7.00" y="2.6" font-size="11.899999999999999">22</text></g>
</g>
</svg>
</body></html>
